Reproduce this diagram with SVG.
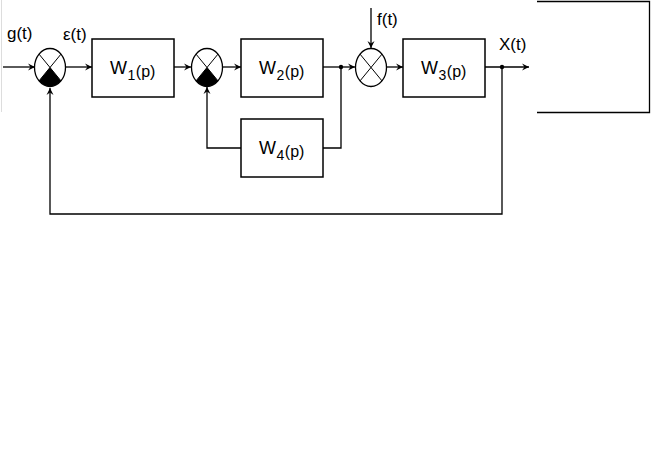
<svg xmlns="http://www.w3.org/2000/svg" width="651" height="465" viewBox="0 0 651 465">
<defs>
<style>
.ln{fill:none;stroke:#000;stroke-width:1.3}
.bx{fill:#fff;stroke:#000;stroke-width:1.5}
.sm{fill:#fff;stroke:#000;stroke-width:1.3}
.x{stroke:#000;stroke-width:1}
.t{font-family:"Liberation Sans",Arial,sans-serif;font-size:17px;fill:#000}
.w{font-family:"Liberation Sans",Arial,sans-serif;font-size:18px;fill:#000}
</style>
<marker id="ar" markerWidth="8" markerHeight="8" refX="7" refY="4" orient="auto" markerUnits="userSpaceOnUse">
<path d="M0,0.5 L7,4 L0,7.5 L2.5,4 z" fill="#000"/>
</marker>
</defs>
<rect width="651" height="465" fill="#fff"/>
<line x1="1.5" y1="0" x2="1.5" y2="112" stroke="#ddd" stroke-width="1"/>
<g id="panel"><polyline class="ln" points="537,1.5 649.5,1.5 649.5,112.5 537,112.5"/></g>

<g id="connectors">
<line class="ln" x1="3" y1="67" x2="35" y2="67" marker-end="url(#ar)"/>
<line class="ln" x1="66" y1="67" x2="92" y2="67" marker-end="url(#ar)"/>
<line class="ln" x1="174" y1="67" x2="191" y2="67" marker-end="url(#ar)"/>
<line class="ln" x1="223" y1="67" x2="241" y2="67" marker-end="url(#ar)"/>
<line class="ln" x1="323" y1="67" x2="355" y2="67" marker-end="url(#ar)"/>
<line class="ln" x1="387" y1="67" x2="403" y2="67" marker-end="url(#ar)"/>
<line class="ln" x1="485" y1="67" x2="529" y2="67" marker-end="url(#ar)"/>
<line class="ln" x1="371" y1="8" x2="371" y2="48" marker-end="url(#ar)"/>
<polyline class="ln" points="341,67 341,148 323,148"/>
<polyline class="ln" points="241,148 207,148 207,87" marker-end="url(#ar)"/>
<polyline class="ln" points="502,67 502,214 50,214 50,88" marker-end="url(#ar)"/>
<circle cx="341" cy="67" r="2.2" fill="#000"/>
<circle cx="502" cy="67" r="2.2" fill="#000"/>
</g>

<g id="sum1">
<ellipse class="sm" cx="50" cy="67.5" rx="15.5" ry="19"/>
<path d="M50,67.5 L61,80.9 A15.5,19 0 0 1 39,80.9 Z" fill="#000"/>
<line class="x" x1="39" y1="54.1" x2="61" y2="80.9"/>
<line class="x" x1="61" y1="54.1" x2="39" y2="80.9"/>
</g>
<g id="sum2">
<ellipse class="sm" cx="207" cy="67.5" rx="15.5" ry="19"/>
<path d="M207,67.5 L218,80.9 A15.5,19 0 0 1 196,80.9 Z" fill="#000"/>
<line class="x" x1="196" y1="54.1" x2="218" y2="80.9"/>
<line class="x" x1="218" y1="54.1" x2="196" y2="80.9"/>
</g>
<g id="sum3">
<ellipse class="sm" cx="371" cy="67.5" rx="15.5" ry="19"/>
<line class="x" x1="360" y1="54.1" x2="382" y2="80.9"/>
<line class="x" x1="382" y1="54.1" x2="360" y2="80.9"/>
</g>

<g id="W1">
<rect class="bx" x="92" y="39" width="82" height="58"/>
<text class="w" x="110" y="74">W<tspan font-size="14" dx="0.5" dy="6">1</tspan><tspan font-size="16" dx="0.5" dy="-3">(p)</tspan></text>
</g>
<g id="W2">
<rect class="bx" x="241" y="39" width="82" height="58"/>
<text class="w" x="259" y="74">W<tspan font-size="14" dx="0.5" dy="6">2</tspan><tspan font-size="16" dx="0.5" dy="-3">(p)</tspan></text>
</g>
<g id="W3">
<rect class="bx" x="403" y="39" width="82" height="58"/>
<text class="w" x="421" y="74">W<tspan font-size="14" dx="0.5" dy="6">3</tspan><tspan font-size="16" dx="0.5" dy="-3">(p)</tspan></text>
</g>
<g id="W4">
<rect class="bx" x="241" y="119" width="82" height="58"/>
<text class="w" x="259" y="154">W<tspan font-size="14" dx="0.5" dy="6">4</tspan><tspan font-size="16" dx="0.5" dy="-3">(p)</tspan></text>
</g>

<g id="labels">
<text class="t" x="7" y="39">g(t)</text>
<text class="t" x="63" y="40">ε(t)</text>
<text class="t" x="377" y="25">f(t)</text>
<text class="t" x="499" y="50">X(t)</text>
</g>
</svg>
